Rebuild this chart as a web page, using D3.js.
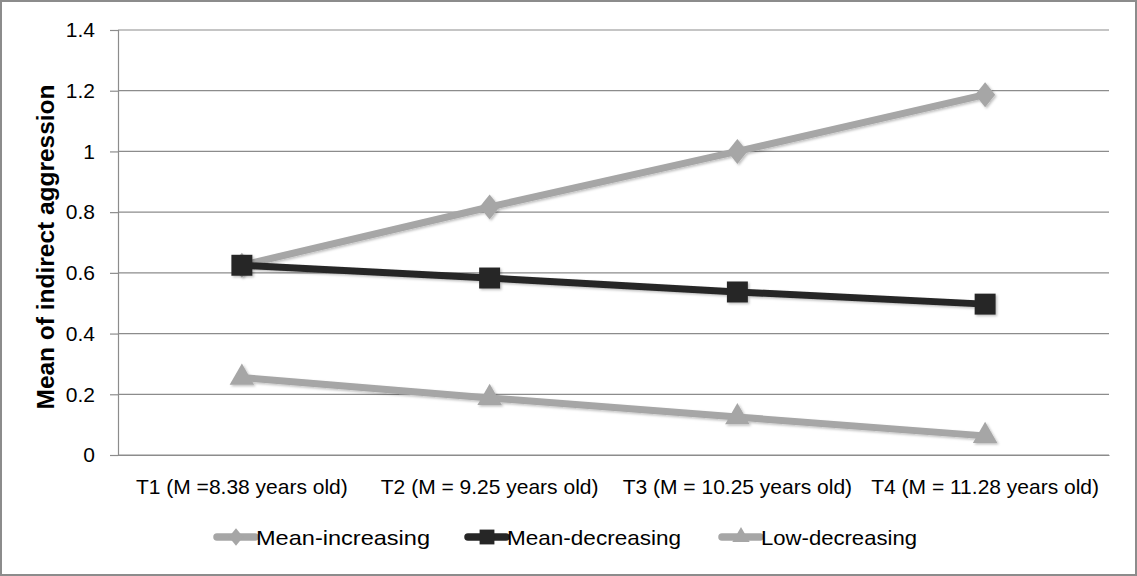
<!DOCTYPE html>
<html><head><meta charset="utf-8">
<script src="https://cdn.jsdelivr.net/npm/d3@7"></script>
<style>body{margin:0;background:#fff;}svg{display:block;font-family:"Liberation Sans",Arial,sans-serif;}</style>
</head><body>
<svg id="chart" width="1137" height="576"></svg>
<script>
const categories = ["T1  (M =8.38 years old)", "T2 (M = 9.25 years old)", "T3 (M = 10.25 years old)", "T4  (M = 11.28 years old)"];
const meanIncreasing = [0.625, 0.817, 1.0, 1.187];
const meanDecreasing = [0.625, 0.583, 0.537, 0.497];
const lowDecreasing = [0.255, 0.188, 0.125, 0.063];
const yTicks = [0, 0.2, 0.4, 0.6, 0.8, 1, 1.2, 1.4];
const seriesNames = ["Mean-increasing", "Mean-decreasing", "Low-decreasing"];

const tallDiamond = {draw(ctx, size){ const w = Math.sqrt(size)*0.45, h = Math.sqrt(size)*0.56;
  ctx.moveTo(0,-h); ctx.lineTo(w,0); ctx.lineTo(0,h); ctx.lineTo(-w,0); ctx.closePath(); }};

const series = [
  {name: seriesNames[0], values: meanIncreasing, color: "#a6a6a6", symbol: tallDiamond, size: 500},
  {name: seriesNames[1], values: meanDecreasing, color: "#262626", symbol: d3.symbolSquare2, size: 560},
  {name: seriesNames[2], values: lowDecreasing, color: "#a6a6a6", symbol: d3.symbolTriangle2, size: 430}
];

const svg = d3.select("#chart");
svg.append("rect").attr("x",1).attr("y",1).attr("width",1135).attr("height",574)
  .attr("fill","#fff").attr("stroke","#8c8c8c").attr("stroke-width",2);

const defs = svg.append("defs");
const f = defs.append("filter").attr("id","sh").attr("x","-20%").attr("y","-20%").attr("width","150%").attr("height","150%");
f.append("feDropShadow").attr("dx",1.5).attr("dy",1.5).attr("stdDeviation",1.2).attr("flood-color","#000").attr("flood-opacity",0.25);

const m = {left:118, right:1109, top:30, bottom:455};
const x = d3.scaleBand().domain(categories).range([m.left, m.right]);
const y = d3.scaleLinear().domain([0,1.4]).range([m.bottom, m.top]);

// gridlines
svg.append("g").selectAll("line").data(yTicks).join("line")
  .attr("x1", m.left).attr("x2", m.right)
  .attr("y1", d=>y(d)).attr("y2", d=>y(d))
  .attr("stroke","#8c8c8c").attr("stroke-width",1.2);

// y axis
const ya = svg.append("g").attr("transform",`translate(${m.left},0)`)
  .call(d3.axisLeft(y).tickValues(yTicks).tickSize(8).tickFormat(d=>String(d)));
ya.select(".domain").attr("stroke","#8c8c8c").attr("stroke-width",1.2);
ya.selectAll(".tick line").attr("stroke","#8c8c8c").attr("stroke-width",1.2);
ya.selectAll("text").attr("font-size",21).attr("font-family","Liberation Sans, Arial, sans-serif").attr("fill","#000").attr("x",-23);

// x axis
const xa = svg.append("g").attr("transform",`translate(0,${m.bottom})`)
  .call(d3.axisBottom(x).tickSize(0));
xa.select(".domain").attr("stroke","#8c8c8c").attr("stroke-width",1.2);
xa.selectAll("text").attr("font-size",21).attr("font-family","Liberation Sans, Arial, sans-serif").attr("fill","#000").attr("dy","0").attr("y",39);

// y title
svg.append("text").attr("transform","translate(54,247) rotate(-90)")
  .attr("text-anchor","middle").attr("font-weight","bold").attr("font-size",23)
  .attr("textLength",325).attr("lengthAdjust","spacingAndGlyphs").text("Mean of indirect aggression");

const line = d3.line().x((d,i)=>x(categories[i])+x.bandwidth()/2).y(d=>y(d));

series.forEach(s=>{
  const g = svg.append("g").attr("filter","url(#sh)");
  g.append("path").attr("d", line(s.values)).attr("fill","none").attr("stroke", s.color).attr("stroke-width",7).attr("stroke-linejoin","round");
  g.selectAll("path.m").data(s.values).join("path").attr("class","m")
    .attr("transform",(d,i)=>`translate(${x(categories[i])+x.bandwidth()/2},${y(d)})`)
    .attr("d", d3.symbol().type(s.symbol).size(s.size)).attr("fill", s.color);
});

// legend
const legendX = [215, 466, 720];
const legendTextLen = [174, 174, 156];
const lg = svg.append("g");
series.forEach((s,i)=>{
  const g = lg.append("g").attr("transform",`translate(${legendX[i]},537)`);
  g.append("line").attr("x1",2).attr("x2",40).attr("stroke",s.color).attr("stroke-width",7.5).attr("stroke-linecap","round");
  g.append("path").attr("transform","translate(21,0)").attr("d", d3.symbol().type(s.symbol).size(s.size*0.5)).attr("fill", s.color);
  g.append("text").attr("x",41).attr("y",8).attr("font-size",21).attr("fill","#000")
    .attr("textLength",legendTextLen[i]).attr("lengthAdjust","spacingAndGlyphs").text(s.name);
});
</script>
</body></html>
